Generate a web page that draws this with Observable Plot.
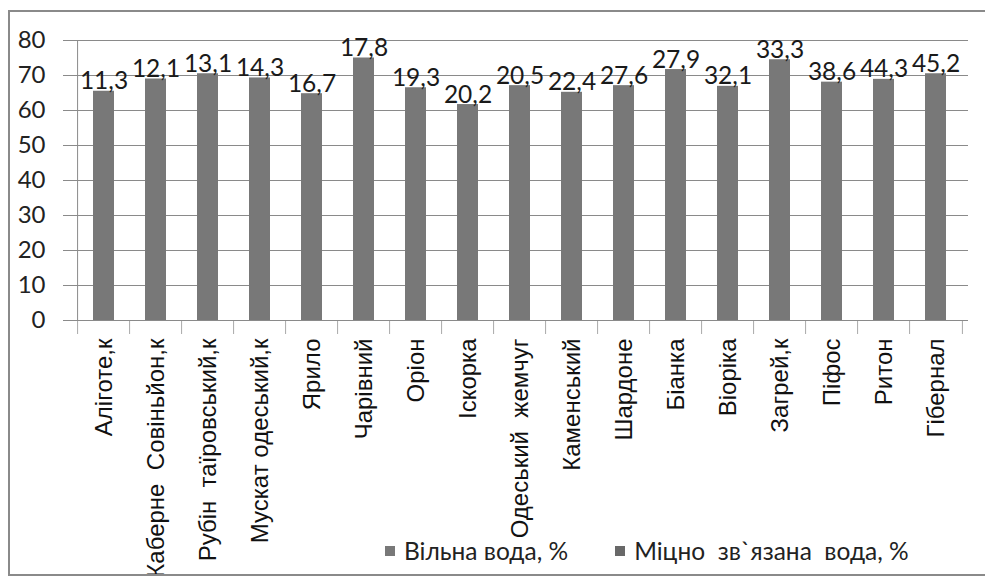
<!DOCTYPE html>
<html>
<head>
<meta charset="utf-8">
<script src="https://cdn.jsdelivr.net/npm/d3@7"></script>
<script src="https://cdn.jsdelivr.net/npm/@observablehq/plot@0.6"></script>
<style>
  body { margin: 0; background: #fff; }
  #wrap { position: relative; width: 985px; height: 582px; overflow: hidden; background: #fff; }
  #chart { position: absolute; left: 0; top: 0; }
  #frame { position: absolute; left: 8px; top: 10px; width: 980px; height: 566px; border: 2px solid #8a8a8a; box-sizing: border-box; pointer-events: none; }
  #legend { position: absolute; top: 536px; left: 385px; font-family: Lato, sans-serif; font-size: 24.5px; color: #222; display: flex; align-items: center; white-space: pre; }
  .sw { display: inline-block; width: 10px; height: 10px; margin-right: 9px; }
  .item { display: flex; align-items: center; }
</style>
</head>
<body>
<div id="wrap">
  <div id="chart"></div>
  <div id="frame"></div>
  <div id="legend"></div>
</div>
<script>
const categories = [
  "Аліготе,к", "Каберне  Совіньйон,к", "Рубін  таїровський,к", "Мускат одеський,к",
  "Ярило", "Чарівний", "Оріон", "Іскорка", "Одеський  жемчуг", "Каменський",
  "Шардоне", "Біанка", "Віоріка", "Загрей,к", "Піфос", "Ритон", "Гібернал"
];
// Вільна вода, % (bar heights)
const freeWater = [65.5, 69.0, 70.5, 69.3, 64.8, 75.0, 66.5, 61.7, 67.1, 65.2, 67.1, 71.7, 66.9, 74.5, 68.1, 68.9, 70.5];
// Міцно зв`язана вода, % (labels)
const boundWater = [11.3, 12.1, 13.1, 14.3, 16.7, 17.8, 19.3, 20.2, 20.5, 22.4, 27.6, 27.9, 32.1, 33.3, 38.6, 44.3, 45.2];
const yTicks = [0, 10, 20, 30, 40, 50, 60, 70, 80];
const seriesNames = ["Вільна вода, %", "Міцно  зв`язана  вода, %"];
const seriesColors = ["#787878", "#686868"];

const data = categories.map((c, i) => ({cat: c, free: freeWater[i], bound: boundWater[i]}));
const fmt = v => v.toFixed(1).replace(".", ",");

const W = 985, H = 582, ML = 70, MR = 17, MT = 40, MB = 262;
const step = (W - ML - MR) / categories.length;

const plot = Plot.plot({
  width: W,
  height: H,
  marginLeft: ML,
  marginRight: MR,
  marginTop: MT,
  marginBottom: MB,
  style: {background: "transparent", color: "#222"},
  x: {domain: categories, paddingInner: 0.6, paddingOuter: 0.3, label: null},
  y: {domain: [0, 80], ticks: yTicks, label: null},
  marks: [
    Plot.gridY(yTicks, {stroke: "#8a8a8a", strokeOpacity: 1, strokeWidth: 1}),
    Plot.barY(data, {x: "cat", y: "free", fill: seriesColors[0]}),
    // category boundary ticks
    Plot.ruleX(categories, {x: d => d, dx: -step / 2, y1: 0, y2: -4, stroke: "#aaa", clip: false}),
    Plot.ruleX([categories[categories.length - 1]], {x: d => d, dx: step / 2, y1: 0, y2: -4, stroke: "#aaa"}),
    // y axis line
    Plot.ruleX([categories[0]], {x: d => d, dx: -step / 2, y1: 0, y2: 80, stroke: "#8a8a8a"}),
    Plot.ruleY([0], {stroke: "#8a8a8a"}),
    Plot.axisY({ticks: yTicks, tickSize: 7, tickPadding: 18, stroke: "#8a8a8a", fontSize: 24, fontFamily: "Lato", fill: "#222", label: null}),
    Plot.axisX({tickSize: 0, tickPadding: 18, tickRotate: -90, fontSize: 24, fontFamily: "Liberation Sans", fill: "#111", label: null}),
    Plot.text(data, {x: "cat", y: "free", text: d => fmt(d.bound), lineAnchor: "bottom", dy: -2, fontSize: 24.5, fontFamily: "Lato", fill: "#1a1a1a"})
  ]
});
document.getElementById("chart").appendChild(plot);

const legend = document.getElementById("legend");
seriesNames.forEach((n, i) => {
  const it = document.createElement("span");
  it.className = "item";
  it.style.marginRight = i === 0 ? "47px" : "0";
  const sw = document.createElement("span");
  sw.className = "sw";
  sw.style.background = seriesColors[i];
  it.appendChild(sw);
  it.appendChild(document.createTextNode(n));
  legend.appendChild(it);
});
</script>
</body>
</html>
